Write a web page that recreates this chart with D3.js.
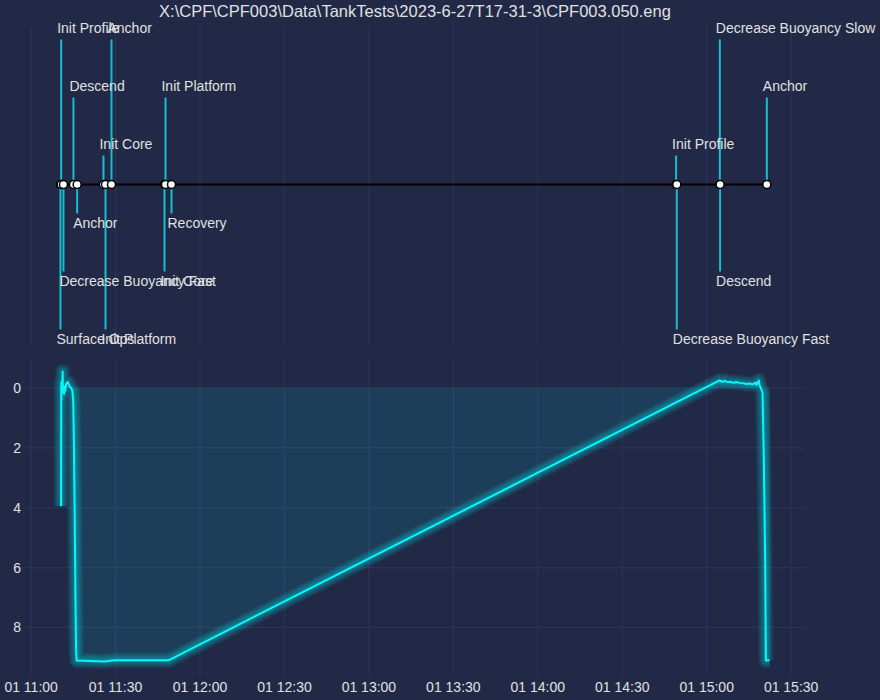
<!DOCTYPE html>
<html>
<head>
<meta charset="utf-8">
<script src="https://cdn.jsdelivr.net/npm/d3@7"></script>
<style>
  body { margin: 0; background: #212946; }
  svg { display: block; }
  text { font-family: "Liberation Sans", Arial, sans-serif; fill: #e0e0e0; }
</style>
</head>
<body>
<div id="chart"></div>
<script>
const day = "2023-07-01T";
const titleText = "X:\\CPF\\CPF003\\Data\\TankTests\\2023-6-27T17-31-3\\CPF003.050.eng";

// timeline events
const eventNames = ["Surface Ops", "Init Profile", "Decrease Buoyancy Fast", "Descend", "Anchor",
    "Init Core", "Init Platform", "Anchor", "Init Core", "Init Platform", "Recovery",
    "Init Profile", "Decrease Buoyancy Fast", "Decrease Buoyancy Slow", "Descend", "Anchor"];
const eventTimes = ["11:10:25", "11:10:40", "11:11:29", "11:15:02", "11:16:21",
    "11:25:42", "11:26:25", "11:28:33", "11:47:23", "11:47:44", "11:49:52",
    "14:49:08", "14:49:23", "15:04:40", "15:04:46", "15:21:22"];
const eventLevels = [-5, 5, -3, 3, -1, 1, -5, 5, -3, 3, -1, 1, -5, 5, -3, 3];

// depth trace
const depthTimes = ["11:10:38", "11:10:41", "11:10:44", "11:10:47", "11:10:51", "11:10:56",
    "11:11:05", "11:11:12", "11:11:16", "11:11:30", "11:11:42", "11:11:52", "11:12:05",
    "11:12:30", "11:13:00", "11:13:40", "11:14:15", "11:14:40", "11:14:58", "11:15:13",
    "11:15:30", "11:15:44", "11:15:59", "11:16:10", "11:20:40", "11:26:00", "11:29:40",
    "11:48:50", "15:04:34", "15:05:30", "15:06:20", "15:07:00", "15:08:30", "15:09:40",
    "15:10:30", "15:11:40", "15:13:00", "15:14:00", "15:15:10", "15:16:20", "15:17:20",
    "15:17:40", "15:18:30", "15:18:50", "15:19:14", "15:19:50", "15:20:18", "15:20:46",
    "15:21:01", "15:22:20"];
const depthValues = [3.95, 0.1, -0.2, 0.4, -0.1, 0.15,
    -0.05, -0.55, 0.1, -0.05, 0.2, -0.05, 0.1,
    -0.15, -0.2, -0.05, 0.0, 0.1, 0.5, 2.0,
    4.5, 7.0, 8.8, 9.11, 9.12, 9.14, 9.1,
    9.1, -0.25, -0.2, -0.24, -0.21, -0.2, -0.17,
    -0.2, -0.17, -0.16, -0.13, -0.15, -0.12, -0.18,
    -0.1, -0.25, -0.08, 0.0, 0.16, 2.4, 5.7,
    9.11, 9.1];

const width = 880, height = 700;
const left = 25, right = 805;
const top1 = 25, bot1 = 344, top2 = 357, bot2 = 676;

const parse = s => new Date(day + s);
const events = eventNames.map((n, i) => ({ name: n, t: parse(eventTimes[i]), level: eventLevels[i] }));
const depth = depthTimes.map((s, i) => ({ t: parse(s), d: depthValues[i] }));

const allT = events.map(e => e.t).concat(depth.map(d => d.t));
const [t0, t1] = d3.extent(allT);
const pad = (t1 - t0) * 0.05;

const x = d3.scaleTime()
    .domain([new Date(+t0 - pad), new Date(+t1 + pad)])
    .range([left, right]);

const yTop = d3.scaleLinear().domain([-5.5, 5.5]).range([bot1, top1]);

const [dMin, dMax] = d3.extent(depthValues);
const dPad = (dMax - dMin) * 0.05;
const y = d3.scaleLinear().domain([dMin - dPad, dMax + dPad]).range([top2, bot2]);

const svg = d3.select('#chart').append('svg')
    .attr('width', width)
    .attr('height', height);

svg.append('rect').attr('width', width).attr('height', height).attr('fill', '#212946');

const xTicks = x.ticks(d3.timeMinute.every(30));
const gridColor = '#2A3459';

// top panel grid
svg.append('g').selectAll('line')
    .data(xTicks)
  .enter().append('line')
    .attr('x1', d => x(d)).attr('x2', d => x(d))
    .attr('y1', top1).attr('y2', bot1)
    .attr('stroke', gridColor).attr('stroke-width', 1.2);

// stems
svg.append('g').selectAll('line')
    .data(events)
  .enter().append('line')
    .attr('x1', d => x(d.t)).attr('x2', d => x(d.t))
    .attr('y1', yTop(0)).attr('y2', d => yTop(d.level))
    .attr('stroke', '#17becf').attr('stroke-width', 2);

// baseline with markers
svg.append('path')
    .datum(events)
    .attr('d', d3.line().x(d => x(d.t)).y(yTop(0)))
    .attr('fill', 'none')
    .attr('stroke', '#000')
    .attr('stroke-width', 2);

svg.append('g').selectAll('circle')
    .data(events)
  .enter().append('circle')
    .attr('cx', d => x(d.t)).attr('cy', yTop(0))
    .attr('r', 4)
    .attr('fill', '#fff')
    .attr('stroke', '#000')
    .attr('stroke-width', 1.5);

svg.append('g').selectAll('text')
    .data(events)
  .enter().append('text')
    .attr('x', d => x(d.t) - 4)
    .attr('y', d => d.level > 0 ? yTop(d.level) - 7 : yTop(d.level) + 4)
    .attr('dominant-baseline', d => d.level > 0 ? 'auto' : 'hanging')
    .attr('font-size', 14)
    .text(d => d.name);

// bottom panel grid
svg.append('g').selectAll('line')
    .data(xTicks)
  .enter().append('line')
    .attr('x1', d => x(d)).attr('x2', d => x(d))
    .attr('y1', top2).attr('y2', bot2)
    .attr('stroke', gridColor).attr('stroke-width', 1.2);

const yTicks = [0, 2, 4, 6, 8];
svg.append('g').selectAll('line')
    .data(yTicks)
  .enter().append('line')
    .attr('x1', left).attr('x2', right)
    .attr('y1', d => y(d)).attr('y2', d => y(d))
    .attr('stroke', gridColor).attr('stroke-width', 1.2);

// fill under the trace
svg.append('path')
    .datum(depth)
    .attr('d', d3.area().x(d => x(d.t)).y0(y(0)).y1(d => y(d.d)))
    .attr('fill', '#08F7FE')
    .attr('fill-opacity', 0.1);

// glow
const line = d3.line().x(d => x(d.t)).y(d => y(d.d));
const glow = svg.append('g');
for (let i = 1; i <= 10; i++) {
    glow.append('path')
        .datum(depth)
        .attr('d', line)
        .attr('fill', 'none')
        .attr('stroke', '#08F7FE')
        .attr('stroke-width', 2 + i * 1.4)
        .attr('stroke-linejoin', 'round')
        .attr('stroke-opacity', 0.045);
}
svg.append('path')
    .datum(depth)
    .attr('d', line)
    .attr('fill', 'none')
    .attr('stroke', '#08F7FE')
    .attr('stroke-width', 2)
    .attr('stroke-linejoin', 'round');

// axes labels
svg.append('g').selectAll('text')
    .data(xTicks)
  .enter().append('text')
    .attr('x', d => x(d))
    .attr('y', bot2 + 6)
    .attr('dominant-baseline', 'hanging')
    .attr('text-anchor', 'middle')
    .attr('font-size', 14)
    .text(d3.timeFormat('%d %H:%M'));

svg.append('g').selectAll('text')
    .data(yTicks)
  .enter().append('text')
    .attr('x', left - 4)
    .attr('y', d => y(d))
    .attr('dominant-baseline', 'central')
    .attr('text-anchor', 'end')
    .attr('font-size', 14)
    .text(d => d);

svg.append('text')
    .attr('x', (left + right) / 2)
    .attr('y', 17)
    .attr('text-anchor', 'middle')
    .attr('font-size', 16.5)
    .text(titleText);
</script>
</body>
</html>
